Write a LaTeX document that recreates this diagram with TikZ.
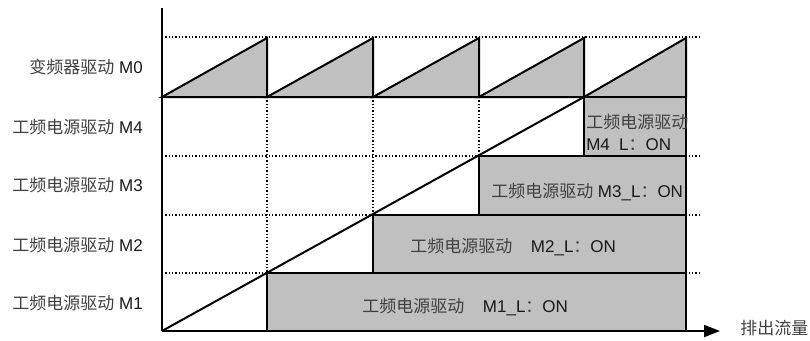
\documentclass[tikz,border=0pt]{standalone}
\usepackage{fontspec}
\setmainfont{Liberation Sans}
\newfontfamily\cjk[Color=404040]{Noto Sans CJK SC}
\usetikzlibrary{arrows.meta}
\definecolor{barfill}{HTML}{C0C0C0}
\begin{document}
\begin{tikzpicture}[x=0.75pt,y=-0.75pt,
  axis/.style={line width=1.5pt},
  gridline/.style={line width=0.9pt, dash pattern=on 0.9pt off 1.6pt},
  bar/.style={fill=barfill, draw=black, line width=1.5pt},
  tooth/.style={fill=barfill, draw=black, line width=1.5pt, line join=miter},
  lbl/.style={font=\fontsize{12.75}{15}\selectfont, text=black!90, inner sep=0pt}]
\useasboundingbox (0,0) rectangle (810,340);
% key coordinates
\coordinate (O) at (162,331);
\coordinate (Ytop) at (162,8);
\coordinate (Xend) at (720,331);
\coordinate (B0) at (162,97);
\coordinate (B1) at (267,97);
\coordinate (B2) at (373,97);
\coordinate (B3) at (479,97);
\coordinate (B4) at (584,97);
\coordinate (B5) at (686,97);
\coordinate (T1) at (267,38);
\coordinate (T2) at (373,38);
\coordinate (T3) at (479,38);
\coordinate (T4) at (584,38);
\coordinate (T5) at (686,38);
% dotted grid
\draw[gridline] (162,37) -- (700,37);
\draw[gridline] (162,156) -- (700,156);
\draw[gridline] (162,215) -- (700,215);
\draw[gridline] (162,273) -- (700,273);
\draw[gridline] (B1) -- (267,273);
\draw[gridline] (B2) -- (373,215);
\draw[gridline] (B3) -- (479,156);
% sawtooth
\draw[tooth] (B0) -- (T1) -- (B1) -- cycle;
\draw[tooth] (B1) -- (T2) -- (B2) -- cycle;
\draw[tooth] (B2) -- (T3) -- (B3) -- cycle;
\draw[tooth] (B3) -- (T4) -- (B4) -- cycle;
\draw[tooth] (B4) -- (T5) -- (B5) -- cycle;
% bars
\draw[bar] (267,273) rectangle (686,331);
\draw[bar] (373,215) rectangle (686,273);
\draw[bar] (479,156) rectangle (686,215);
\draw[bar] (B4) rectangle (686,156);
% diagonal
\draw[axis] (O) -- (B4);
% axes
\draw[axis] (O) -- (Ytop);
\draw[axis, -{Triangle[length=12pt,width=9pt]}] (O) -- (Xend);
% left labels
\node[lbl, anchor=east] (l0) at (143,67) {{\cjk 变频器驱动} M0};
\node[lbl, anchor=east] (l4) at (143,127) {{\cjk 工频电源驱动} M4};
\node[lbl, anchor=east] (l3) at (143,185) {{\cjk 工频电源驱动} M3};
\node[lbl, anchor=east] (l2) at (143,245) {{\cjk 工频电源驱动} M2};
\node[lbl, anchor=east] (l1) at (143,303) {{\cjk 工频电源驱动} M1};
% bar labels
\node[lbl, anchor=west] (b1) at (362,307) {{\cjk 工频电源驱动}\hspace{14pt}M1\_L{\cjk ：}ON};
\node[lbl, anchor=west] (b2) at (410,247) {{\cjk 工频电源驱动}\hspace{14pt}M2\_L{\cjk ：}ON};
\node[lbl, anchor=west] (b3) at (491,192) {{\cjk 工频电源驱动} M3\_L{\cjk ：}ON};
\node[lbl, anchor=west] (b4a) at (586,122) {{\cjk 工频电源驱动}};
\node[lbl, anchor=west] (b4b) at (586,145) {M4\hspace{7pt}L{\cjk ：}ON};
% axis label
\node[lbl, anchor=west] (xl) at (740,328) {{\cjk 排出流量}};
\end{tikzpicture}
\end{document}
